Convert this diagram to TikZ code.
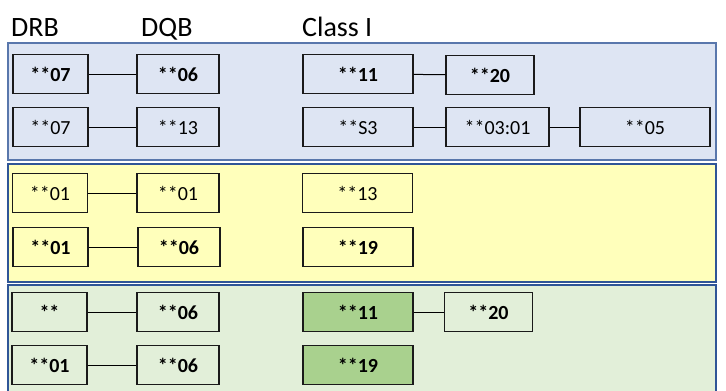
\documentclass[tikz,border=0pt]{standalone}
\usepackage{fontspec}
\setmainfont{Carlito}
\definecolor{bandblue}{HTML}{DEE5F3}
\definecolor{bandyellow}{HTML}{FFFFBB}
\definecolor{bandgreen}{HTML}{E2EFD9}
\definecolor{darkgreen}{HTML}{A9D18E}
\definecolor{bandedge}{HTML}{2F5597}
\definecolor{boxedge}{HTML}{1A1A1A}
\tikzset{
  band/.style={draw=bandedge, line width=1.6bp},
  cell/.style={draw=boxedge, line width=1.3bp, minimum height=39bp, inner sep=0pt,
    font=\fontsize{20bp}{24bp}\selectfont, anchor=center},
  hdr/.style={anchor=base west, inner sep=0pt, font=\fontsize{28bp}{32bp}\selectfont},
  link/.style={draw=black, line width=1bp},
  wa/.style={minimum width=75bp},
  wb/.style={minimum width=82bp},
  wc/.style={minimum width=110bp},
  wd/.style={minimum width=88bp},
  we/.style={minimum width=103bp},
  wf/.style={minimum width=130bp},
}
\begin{document}
\begin{tikzpicture}[x=1bp,y=-1bp]
\clip (0,0) rectangle (726,390);
\fill[white] (0,0) rectangle (726,390);
% headers
\node[hdr] (hdrb) at (11,36) {DRB};
\node[hdr] (hdqb) at (141,36) {DQB};
\node[hdr] (hcls) at (302,36) {Class I};
% bands
\draw[band, fill=bandblue, draw=bandedge!80, line width=1.2bp] (8,43) rectangle (716,160);
\draw[band, fill=bandyellow] (8,164) rectangle (716,282);
\draw[band, fill=bandgreen] (8,285) rectangle (716,396);
% blue band
\node[cell, wa, fill=bandblue] (b1a) at (50.5,74) {\textbf{**07}};
\node[cell, wb, fill=bandblue] (b1b) at (178,74) {\textbf{**06}};
\node[cell, wc, fill=bandblue] (b1c) at (358,74) {\textbf{**11}};
\node[cell, wd, fill=bandblue] (b1d) at (490,75) {\textbf{**20}};
\node[cell, wa, fill=bandblue] (b2a) at (50.5,127) {**07};
\node[cell, wb, fill=bandblue] (b2b) at (178,127) {**13};
\node[cell, wc, fill=bandblue] (b2c) at (358,127) {**S3};
\node[cell, we, fill=bandblue] (b2d) at (497.5,127) {**03:01};
\node[cell, wf, fill=bandblue] (b2e) at (645,127) {**05};
\draw[link] (b1a) -- (b1b);
\draw[link] (b1c) -- (b1d);
\draw[link] (b2a) -- (b2b);
\draw[link] (b2c) -- (b2d);
\draw[link] (b2d) -- (b2e);
% yellow band
\node[cell, wa, fill=bandyellow] (y1a) at (50,193) {**01};
\node[cell, wb, fill=bandyellow] (y1b) at (178,193) {**01};
\node[cell, wc, fill=bandyellow] (y1c) at (357.5,193) {**13};
\node[cell, wa, fill=bandyellow] (y2a) at (50.5,247) {\textbf{**01}};
\node[cell, wb, fill=bandyellow] (y2b) at (179,247) {\textbf{**06}};
\node[cell, wc, fill=bandyellow] (y2c) at (358,247) {\textbf{**19}};
\draw[link] (y1a) -- (y1b);
\draw[link] (y2a) -- (y2b);
% green band
\node[cell, wa, fill=bandgreen] (g1a) at (49.5,312) {\textbf{**}};
\node[cell, wb, fill=bandgreen] (g1b) at (178,312) {\textbf{**06}};
\node[cell, wc, fill=darkgreen] (g1c) at (358,312) {\textbf{**11}};
\node[cell, wd, fill=bandgreen] (g1d) at (488.5,312) {\textbf{**20}};
\node[cell, wa, fill=bandgreen] (g2a) at (49.5,365) {\textbf{**01}};
\node[cell, wb, fill=bandgreen] (g2b) at (178,365) {\textbf{**06}};
\node[cell, wc, fill=darkgreen] (g2c) at (358,365) {\textbf{**19}};
\draw[link] (g1a) -- (g1b);
\draw[link] (g1c) -- (g1d);
\draw[link] (g2a) -- (g2b);
\end{tikzpicture}
\end{document}
